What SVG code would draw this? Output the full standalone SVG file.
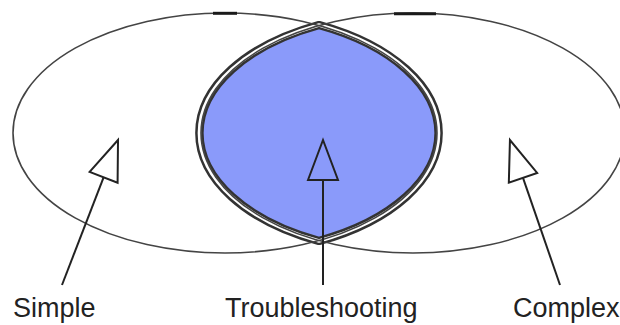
<svg xmlns="http://www.w3.org/2000/svg" width="620" height="325" viewBox="0 0 620 325">
  <style>
    .set { fill: none; stroke: #444; stroke-width: 1.6; }
    .mark { fill: none; stroke: #1a1a1a; stroke-width: 3; }
    .lens-outer { fill: #8a9afa; stroke: #333; stroke-width: 8.5; stroke-linejoin: bevel; }
    .lens-inner { fill: none; stroke: #ffffff; stroke-width: 3.5; stroke-linejoin: bevel; }
    .conn { fill: none; stroke: #222; stroke-width: 2; }
    .label { font-family: "Liberation Sans", Arial, sans-serif; font-size: 27px; fill: #222; }
  </style>
  <defs>
    <marker id="hollow" markerUnits="userSpaceOnUse" viewBox="-2 -17 44 34" markerWidth="44" markerHeight="34" refX="0" refY="0" orient="auto" overflow="visible">
      <path d="M0,-15 L40,0 L0,15 Z" fill="none" stroke="#222" stroke-width="2" stroke-linejoin="miter"/>
    </marker>
  </defs>
  <rect width="620" height="325" fill="#ffffff"/>
  <g id="lens">
    <path class="lens-outer" d="M319,25 A212 120 0 0 1 319,241 A212 120 0 0 1 319,25 Z"/>
    <path class="lens-inner" d="M319,25 A212 120 0 0 1 319,241 A212 120 0 0 1 319,25 Z"/>
  </g>
  <g id="simple-set">
    <ellipse class="set" cx="225" cy="133" rx="212" ry="120"/>
    <path class="mark" d="M213,13.3 L237,13.3"/>
  </g>
  <g id="complex-set">
    <ellipse class="set" cx="413" cy="133" rx="212" ry="120"/>
    <path class="mark" d="M394,13.8 L436,13.8"/>
  </g>
  <g id="connectors">
    <line class="conn" x1="62" y1="285" x2="103.6" y2="177.3" marker-end="url(#hollow)"/>
    <line class="conn" x1="323" y1="285" x2="323" y2="180" marker-end="url(#hollow)"/>
    <line class="conn" x1="560" y1="285" x2="523" y2="177.8" marker-end="url(#hollow)"/>
  </g>
  <g id="label-simple"><text class="label" x="13" y="317">Simple</text></g>
  <g id="label-troubleshooting"><text class="label" x="225" y="317">Troubleshooting</text></g>
  <g id="label-complex"><text class="label" x="513" y="317">Complex</text></g>
</svg>
